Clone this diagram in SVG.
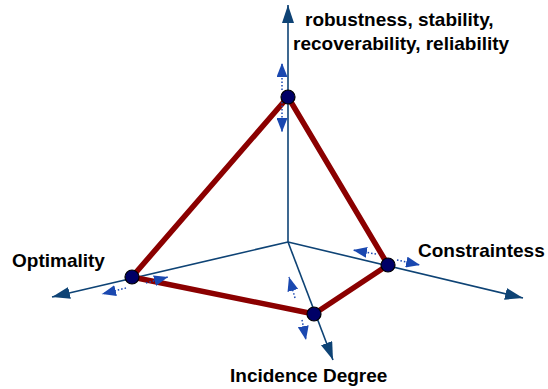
<svg xmlns="http://www.w3.org/2000/svg" width="548" height="389" viewBox="0 0 548 389">
<style>
.axis{stroke:#0e4375;stroke-width:1.6;fill:none}
.edge{stroke:#8b0000;stroke-width:5.5;fill:none;stroke-linejoin:round}
.node{fill:#000066;stroke:#000;stroke-width:1.2}
.sm{stroke:#1a48b0;stroke-width:1.5;stroke-dasharray:1.5 2;fill:none}
.lbl{font-family:"Liberation Sans",Arial,sans-serif;font-weight:bold;font-size:19px;fill:#000}
</style>
<defs>
<marker id="ah" markerUnits="userSpaceOnUse" markerWidth="20" markerHeight="12" refX="18" refY="6" orient="auto">
<path d="M0,0 L18,6 L0,12 Z" fill="#0e4375"/>
</marker>
<marker id="sa" markerUnits="userSpaceOnUse" markerWidth="15" markerHeight="11" refX="14" refY="5.5" orient="auto">
<path d="M0,0 L14,5.5 L0,11 Z" fill="#1a48b0"/>
</marker>
</defs>
<g id="connectors">
<line class="axis" x1="288" y1="242" x2="288" y2="5" marker-end="url(#ah)"/>
<line class="axis" x1="288" y1="242" x2="52" y2="297" marker-end="url(#ah)"/>
<line class="axis" x1="288" y1="242" x2="523" y2="298" marker-end="url(#ah)"/>
<line class="axis" x1="288" y1="242" x2="333" y2="360" marker-end="url(#ah)"/>
<polygon class="edge" points="288,97 132,277 314,314 388,265"/>
<line class="sm" x1="282" y1="90" x2="282" y2="63" marker-end="url(#sa)"/>
<line class="sm" x1="282" y1="102" x2="282" y2="132" marker-end="url(#sa)"/>
<line class="sm" x1="126" y1="288" x2="102" y2="294" marker-end="url(#sa)"/>
<line class="sm" x1="146" y1="283" x2="168" y2="277" marker-end="url(#sa)"/>
<line class="sm" x1="397" y1="260" x2="420" y2="265" marker-end="url(#sa)"/>
<line class="sm" x1="376" y1="254" x2="353" y2="250" marker-end="url(#sa)"/>
<line class="sm" x1="295" y1="298" x2="289" y2="277" marker-end="url(#sa)"/>
<line class="sm" x1="302" y1="320" x2="306" y2="340" marker-end="url(#sa)"/>
</g>
<g id="node-top"><circle class="node" cx="288" cy="97" r="7"/></g>
<g id="node-left"><circle class="node" cx="132" cy="277" r="7"/></g>
<g id="node-bottom"><circle class="node" cx="314" cy="314" r="7"/></g>
<g id="node-right"><circle class="node" cx="388" cy="265" r="7"/></g>
<g id="labels">
<text class="lbl" x="305" y="26">robustness, stability,</text>
<text class="lbl" x="293" y="50">recoverability, reliability</text>
<text class="lbl" x="12" y="267">Optimality</text>
<text class="lbl" x="418" y="257">Constraintess</text>
<text class="lbl" x="230" y="382">Incidence Degree</text>
</g>
</svg>
